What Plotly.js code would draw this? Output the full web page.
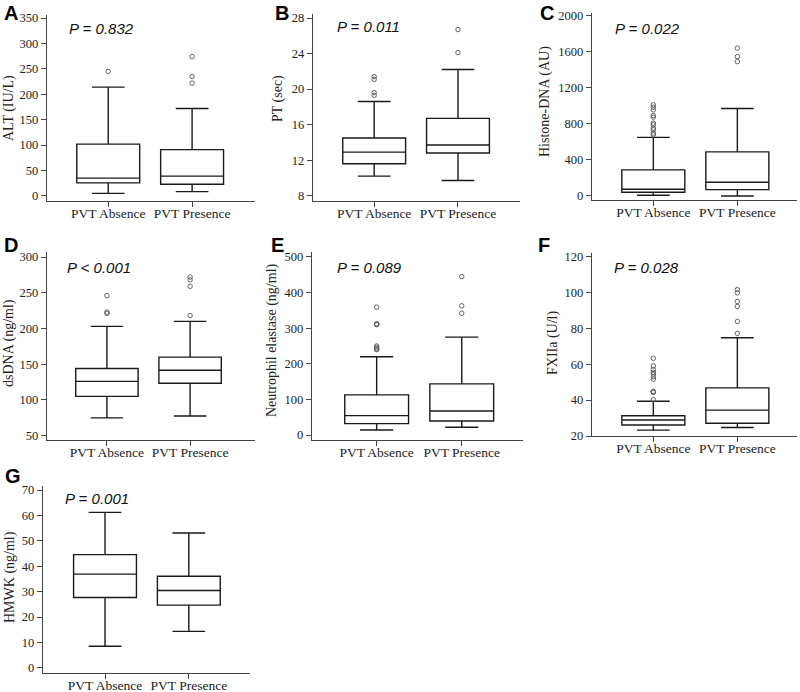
<!DOCTYPE html>
<html>
<head>
<meta charset="utf-8">
<script src="https://cdn.plot.ly/plotly-3.0.1.min.js"></script>
<style>
html,body{margin:0;padding:0;background:#fff;}
#chart{width:800px;height:692px;}
</style>
</head>
<body>
<div id="chart"></div>
<script>
// Categories
const groups = ['PVT Absence', 'PVT Presence'];

// Five-number summaries: [lower whisker, Q1, median, Q3, upper whisker]
const altAbsence = [5, 25.6, 35, 102, 214];
const altPresence = [8.5, 23, 39, 91, 172];
const altOutAbsence = [245];
const altOutPresence = [274, 235, 222];
const altTicks = [0, 50, 100, 150, 200, 250, 300, 350];

const ptAbsence = [10.2, 11.6, 12.9, 14.5, 18.6];
const ptPresence = [9.7, 12.8, 13.7, 16.7, 22.2];
const ptOutAbsence = [21.4, 21.1, 19.6, 19.3];
const ptOutPresence = [26.7, 24.1];
const ptTicks = [8, 12, 16, 20, 24, 28];

const histAbsence = [7, 41, 74, 289, 650];
const histPresence = [0, 70, 152, 489, 970];
const histOutAbsence = [1011, 985, 955, 892, 874, 808, 789, 752, 733, 697, 678];
const histOutPresence = [1640, 1545, 1490];
const histTicks = [0, 400, 800, 1200, 1600, 2000];

const dsAbsence = [75, 105, 126, 144, 203];
const dsPresence = [77.6, 123.4, 141.6, 160, 210];
const dsOutAbsence = [246, 223, 221];
const dsOutPresence = [272, 268, 259, 218];
const dsTicks = [50, 100, 150, 200, 250, 300];

const neAbsence = [14, 31.9, 54.4, 112.6, 220];
const nePresence = [21.6, 39.4, 67.5, 143.5, 275];
const neOutAbsence = [359, 312, 311, 310, 250, 246, 242, 240];
const neOutPresence = [445, 363, 342];
const neTicks = [0, 100, 200, 300, 400, 500];

const fxAbsence = [23.3, 26.1, 28.9, 31.3, 39.4];
const fxPresence = [24.7, 27.1, 34.4, 46.8, 74.8];
const fxOutAbsence = [63.3, 59, 57, 55.5, 54.5, 53, 51.7, 44.8, 44.6, 44.4, 40.2];
const fxOutPresence = [101.6, 99.8, 95, 92.2, 83.8, 77.2];
const fxTicks = [20, 40, 60, 80, 100, 120];

const hmAbsence = [8.5, 27.7, 36.9, 44.6, 61.2];
const hmPresence = [14.4, 24.7, 30.5, 36.1, 53.1];
const hmOutAbsence = [];
const hmOutPresence = [];
const hmTicks = [0, 10, 20, 30, 40, 50, 60, 70];

const panelLetters = ['A', 'B', 'C', 'D', 'E', 'F', 'G'];
const yTitles = ['ALT (IU/L)', 'PT (sec)', 'Histone-DNA (AU)', 'dsDNA (ng/ml)', 'Neutrophil elastase (ng/ml)', 'FXIIa (U/l)', 'HMWK (ng/ml)'];
const pValues = ['P = 0.832', 'P = 0.011', 'P = 0.022', 'P < 0.001', 'P = 0.089', 'P = 0.028', 'P = 0.001'];

// Layout / geometry (pixels in the 800x692 canvas)
const W = 800, H = 692;
const geom = [
  {px:[47,255],  py:[15,201],  yr:[-10,356],  xr:[-0.73,1.75], tx:9,   ty:108, pX:67,  pY:28,  lX:2,   lY:13},
  {px:[313,520], py:[14,201],  yr:[7.4,28.45],xr:[-0.73,1.74], tx:278, ty:99,  pX:335, pY:27,  lX:273, lY:13},
  {px:[592,797], py:[13,200],  yr:[-45,2030], xr:[-0.73,1.71], tx:545, ty:102, pX:613, pY:28,  lX:538, lY:13},
  {px:[47,255],  py:[252,440], yr:[44,307],   xr:[-0.72,1.78], tx:9,   ty:343, pX:65,  pY:267, lX:2,   lY:245},
  {px:[312,523], py:[252,440], yr:[-14,514],  xr:[-0.76,1.72], tx:272, ty:340, pX:335, pY:267, lX:269, lY:245},
  {px:[592,797], py:[253,436], yr:[20,122],   xr:[-0.73,1.71], tx:553, ty:343, pX:612, pY:267, lX:536, lY:245},
  {px:[43,250],  py:[486,673], yr:[-2,71.6],  xr:[-0.74,1.73], tx:10,  ty:577, pX:63,  pY:498, lX:3,   lY:476}
];

const data = [
  [altAbsence, altPresence, altOutAbsence, altOutPresence, altTicks],
  [ptAbsence, ptPresence, ptOutAbsence, ptOutPresence, ptTicks],
  [histAbsence, histPresence, histOutAbsence, histOutPresence, histTicks],
  [dsAbsence, dsPresence, dsOutAbsence, dsOutPresence, dsTicks],
  [neAbsence, nePresence, neOutAbsence, neOutPresence, neTicks],
  [fxAbsence, fxPresence, fxOutAbsence, fxOutPresence, fxTicks],
  [hmAbsence, hmPresence, hmOutAbsence, hmOutPresence, hmTicks]
];

const serif = '"Liberation Serif", "Times New Roman", serif';
const sans = '"Liberation Sans", Arial, sans-serif';
const traces = [];
const layout = {
  width: W, height: H,
  margin: {l:0, r:0, t:0, b:0},
  font: {family: serif, size: 13, color: '#222'},
  paper_bgcolor: '#fff', plot_bgcolor: 'rgba(0,0,0,0)',
  showlegend: false,
  annotations: []
};

data.forEach((d, i) => {
  const [abs, pres, outA, outP, ticks] = d;
  const g = geom[i];
  const n = i === 0 ? '' : String(i + 1);
  const xa = 'x' + n, ya = 'y' + n;
  traces.push({
    type: 'box', xaxis: xa, yaxis: ya,
    x: groups,
    lowerfence: [abs[0], pres[0]],
    q1: [abs[1], pres[1]],
    median: [abs[2], pres[2]],
    q3: [abs[3], pres[3]],
    upperfence: [abs[4], pres[4]],
    boxpoints: false,
    width: 0.75,
    whiskerwidth: 0.52,
    fillcolor: '#ffffff',
    line: {color: '#1a1a1a', width: 1.4},
    hoverinfo: 'skip'
  });
  const ox = outA.map(() => groups[0]).concat(outP.map(() => groups[1]));
  const oy = outA.concat(outP);
  if (oy.length) {
    traces.push({
      type: 'scatter', mode: 'markers', xaxis: xa, yaxis: ya,
      x: ox, y: oy,
      marker: {symbol: 'circle-open', size: 4.5, color: '#555', line: {width: 0.9, color: '#555'}},
      hoverinfo: 'skip'
    });
  }
  layout['xaxis' + n] = {
    domain: [g.px[0] / W, g.px[1] / W],
    anchor: ya,
    type: 'category',
    categoryorder: 'array', categoryarray: groups,
    range: g.xr,
    showline: true, linecolor: '#444', linewidth: 1.3,
    ticks: 'outside', ticklen: 5, tickcolor: '#444', tickwidth: 1,
    ticklabelstandoff: -6,
    showgrid: false, zeroline: false,
    tickfont: {family: serif, size: 13.5, color: '#222'}
  };
  layout['yaxis' + n] = {
    domain: [1 - g.py[1] / H, 1 - g.py[0] / H],
    anchor: xa,
    range: g.yr,
    tickmode: 'array', tickvals: ticks, ticktext: ticks.map(String),
    showline: true, linecolor: '#444', linewidth: 1.3,
    ticks: 'outside', ticklen: 5, tickcolor: '#444', tickwidth: 1,
    showgrid: false, zeroline: false,
    tickfont: {family: serif, size: 12.5, color: '#222'}
  };
  layout.annotations.push({
    xref: 'paper', yref: 'paper', x: g.tx / W, y: 1 - g.ty / H,
    text: yTitles[i], textangle: -90, showarrow: false,
    xanchor: 'center', yanchor: 'middle',
    font: {family: serif, size: 14, color: '#222'}
  });
  layout.annotations.push({
    xref: 'paper', yref: 'paper', x: g.pX / W, y: 1 - g.pY / H,
    text: '<i>' + pValues[i] + '</i>', showarrow: false,
    xanchor: 'left', yanchor: 'middle',
    font: {family: sans, size: 15, color: '#111'}
  });
  layout.annotations.push({
    xref: 'paper', yref: 'paper', x: g.lX / W, y: 1 - g.lY / H,
    text: '<b>' + panelLetters[i] + '</b>', showarrow: false,
    xanchor: 'left', yanchor: 'middle',
    font: {family: sans, size: 20, color: '#000'}
  });
});

Plotly.newPlot('chart', traces, layout, {displayModeBar: false, staticPlot: true});
</script>
</body>
</html>
